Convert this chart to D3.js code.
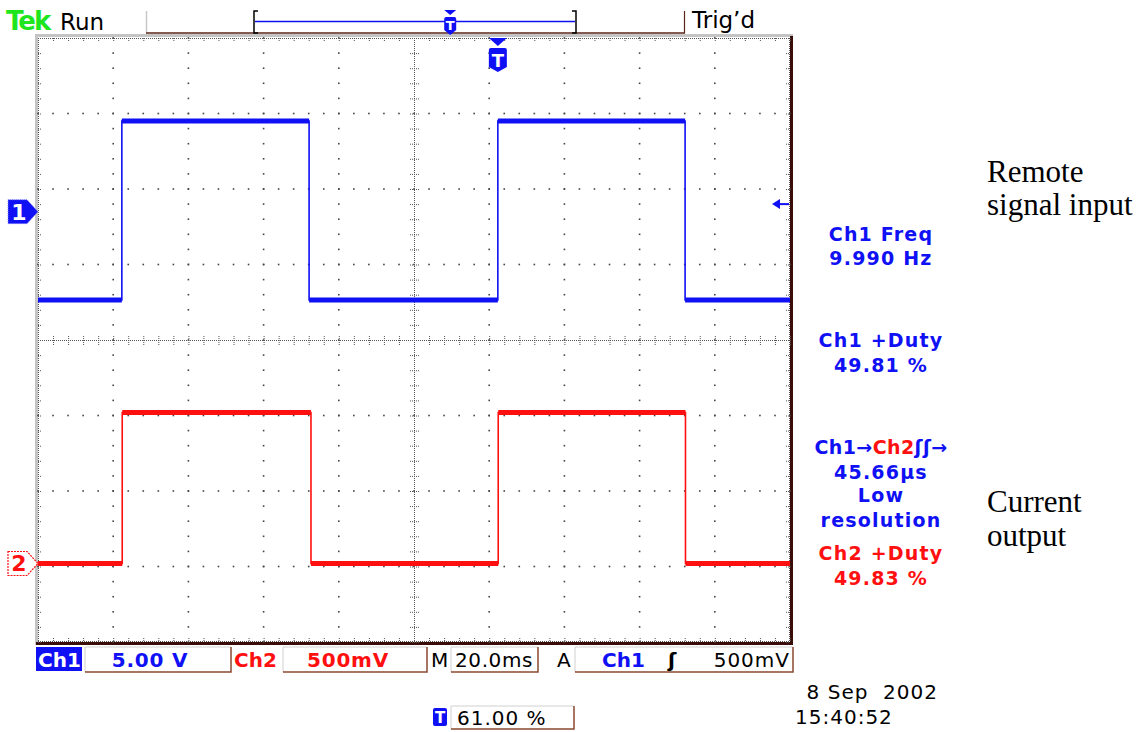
<!DOCTYPE html>
<html>
<head>
  <script src="https://d3js.org/d3.v7.min.js"></script>
  <style>
    body { margin: 0; background: #fff; }
    text { font-family: "DejaVu Sans", sans-serif; }
    .serif { font-family: "Liberation Serif", "Times New Roman", serif; }
  </style>
</head>
<body>
<svg id="scope"></svg>
<script>
  // traces: time in ms from left edge, volts
  const ch1Time = [0, 22.3, 22.3, 72.1, 72.1, 122.3, 122.3, 172.1, 172.1, 200];
  const ch1Volts = [-5.85, -5.85, 6.0, 6.0, -5.85, -5.85, 6.0, 6.0, -5.85, -5.85];
  const ch2Time = [0, 22.4, 22.4, 72.6, 72.6, 122.4, 122.4, 172.2, 172.2, 200];
  const ch2Volts = [0, 0, 1.0, 1.0, 0, 0, 1.0, 1.0, 0, 0];

  const ch1Scale = 5;      // V/div
  const ch2Scale = 0.5;    // V/div
  const ch1Offset = 1.7;   // div above centre
  const ch2Offset = -2.96;
  const triggerTime = 122.3;
  const triggerLevel = 0.5;
  const triggerPct = 61;

  const readouts = ["Ch1 Freq", "9.990 Hz", "Ch1 +Duty", "49.81 %"];
  const delayLines = ["45.66µs", "Low", "resolution"];
  const ch2Readouts = ["Ch2 +Duty", "49.83 %"];

  const blue = "#1010f4", red = "#ff1010", brown = "#5a2418";

  const svg = d3.select("#scope").attr("width", 1146).attr("height", 732);
  svg.append("rect").attr("width", 1146).attr("height", 732).attr("fill", "#fff");

  const x0 = 38, x1 = 790, y0 = 38, y1 = 642;
  const xDiv = d3.scaleLinear().domain([0, 10]).range([x0, x1]);
  const yDiv = d3.scaleLinear().domain([-4, 4]).range([y1, y0]);
  const xTime = d3.scaleLinear().domain([0, 200]).range([x0, x1]);
  const y1v = v => yDiv(v / ch1Scale + ch1Offset);
  const y2v = v => yDiv(v / ch2Scale + ch2Offset);

  // frame bevel
  svg.append("rect").attr("x", 35).attr("y", 34).attr("width", 758).attr("height", 3).attr("fill", "#c4c4c4");
  svg.append("rect").attr("x", 35).attr("y", 34).attr("width", 3).attr("height", 611).attr("fill", "#c4c4c4");
  svg.append("rect").attr("x", 790).attr("y", 36).attr("width", 3).attr("height", 609).attr("fill", "#3a0c08");
  svg.append("rect").attr("x", 36).attr("y", 642).attr("width", 757).attr("height", 3).attr("fill", "#3a0c08");

  const grid = svg.append("g").attr("fill", "#444");
  const minor = d3.range(0, 50.001, 1).map(i => i / 5);     // x in div
  const minorY = d3.range(-20, 20.001, 1).map(i => i / 5);  // y in div

  // dots along major lines
  [1, 2, 3, 4, 6, 7, 8, 9].forEach(k => {
    grid.selectAll(null).data(minorY).enter().append("rect")
      .attr("x", xDiv(k) - 0.8).attr("y", d => yDiv(d) - 0.8)
      .attr("width", 1.6).attr("height", 1.6);
  });
  [-3, -2, -1, 1, 2, 3].forEach(k => {
    grid.selectAll(null).data(minor).enter().append("rect")
      .attr("x", d => xDiv(d) - 0.8).attr("y", yDiv(k) - 0.8)
      .attr("width", 1.6).attr("height", 1.6);
  });

  const dotted = svg.append("g").attr("stroke", "#555").attr("stroke-width", 1)
    .attr("stroke-dasharray", "1,1").attr("fill", "none");
  // centre lines with cross ticks
  dotted.append("line").attr("x1", x0).attr("x2", x1).attr("y1", yDiv(0) + 0.5).attr("y2", yDiv(0) + 0.5);
  dotted.append("line").attr("x1", xDiv(5) + 0.5).attr("x2", xDiv(5) + 0.5).attr("y1", y0).attr("y2", y1);
  dotted.selectAll(null).data(minor).enter().append("line")
    .attr("x1", d => xDiv(d) + 0.5).attr("x2", d => xDiv(d) + 0.5)
    .attr("y1", yDiv(0) - 4).attr("y2", yDiv(0) + 5);
  dotted.selectAll(null).data(minorY).enter().append("line")
    .attr("y1", d => yDiv(d) + 0.5).attr("y2", d => yDiv(d) + 0.5)
    .attr("x1", xDiv(5) - 4).attr("x2", xDiv(5) + 5);

  // edges with inward ticks
  dotted.append("line").attr("x1", x0).attr("x2", x1).attr("y1", y0 + 0.5).attr("y2", y0 + 0.5);
  dotted.append("line").attr("x1", x0).attr("x2", x1).attr("y1", y1 - 0.5).attr("y2", y1 - 0.5);
  dotted.append("line").attr("x1", x0 + 0.5).attr("x2", x0 + 0.5).attr("y1", y0).attr("y2", y1);
  dotted.append("line").attr("x1", x1 - 0.5).attr("x2", x1 - 0.5).attr("y1", y0).attr("y2", y1);
  dotted.selectAll(null).data(minor).enter().append("line")
    .attr("x1", d => xDiv(d) + 0.5).attr("x2", d => xDiv(d) + 0.5).attr("y1", y0).attr("y2", y0 + 4);
  dotted.selectAll(null).data(minor).enter().append("line")
    .attr("x1", d => xDiv(d) + 0.5).attr("x2", d => xDiv(d) + 0.5).attr("y1", y1 - 4).attr("y2", y1);
  dotted.selectAll(null).data(minorY).enter().append("line")
    .attr("y1", d => yDiv(d) + 0.5).attr("y2", d => yDiv(d) + 0.5).attr("x1", x0).attr("x2", x0 + 4);
  dotted.selectAll(null).data(minorY).enter().append("line")
    .attr("y1", d => yDiv(d) + 0.5).attr("y2", d => yDiv(d) + 0.5).attr("x1", x1 - 4).attr("x2", x1);

  // traces
  function drawTrace(times, volts, yf, color) {
    const pts = times.map((t, i) => [xTime(t), yf(volts[i])]);
    svg.append("path").attr("d", d3.line()(pts))
      .attr("fill", "none").attr("stroke", color).attr("stroke-width", 1.6);
    const flats = [];
    for (let i = 0; i < pts.length - 1; i++) {
      if (times[i + 1] > times[i]) flats.push([pts[i], pts[i + 1]]);
    }
    svg.selectAll(null).data(flats).enter().append("line")
      .attr("x1", d => d[0][0]).attr("x2", d => d[1][0])
      .attr("y1", d => d[0][1]).attr("y2", d => d[1][1])
      .attr("stroke", color).attr("stroke-width", 5);
  }
  drawTrace(ch1Time, ch1Volts, y1v, blue);
  drawTrace(ch2Time, ch2Volts, y2v, red);

  // channel ground markers
  const gy1 = y1v(0), gy2 = y2v(0);
  svg.append("path")
    .attr("d", `M8,${gy1 - 12} L27,${gy1 - 12} L38,${gy1} L27,${gy1 + 12} L8,${gy1 + 12} Z`)
    .attr("fill", blue).attr("stroke", "#8c8cff").attr("stroke-width", 1).attr("stroke-dasharray", "1,1");
  svg.append("text").attr("x", 19).attr("y", gy1 + 8).attr("text-anchor", "middle")
    .attr("fill", "#fff").attr("font-weight", "bold").attr("font-size", 22).text("1");
  svg.append("path")
    .attr("d", `M8,${gy2 - 12} L27,${gy2 - 12} L38,${gy2} L27,${gy2 + 12} L8,${gy2 + 12} Z`)
    .attr("fill", "#fff").attr("stroke", red).attr("stroke-width", 1.2).attr("stroke-dasharray", "2,1");
  svg.append("text").attr("x", 19).attr("y", gy2 + 8).attr("text-anchor", "middle")
    .attr("fill", red).attr("font-weight", "bold").attr("font-size", 22).text("2");

  // trigger markers
  function trigMark(cx, top, w, tri, h, fs) {
    const g = svg.append("g");
    g.append("path").attr("d", `M${cx - w / 2},${top} L${cx + w / 2},${top} L${cx},${top + tri} Z`).attr("fill", blue);
    const sy = top + tri + 2;
    g.append("path")
      .attr("d", `M${cx - w / 2},${sy + 2} Q${cx - w / 2},${sy} ${cx - w / 2 + 2},${sy} L${cx + w / 2 - 2},${sy} Q${cx + w / 2},${sy} ${cx + w / 2},${sy + 2} L${cx + w / 2},${sy + h - 5} L${cx},${sy + h} L${cx - w / 2},${sy + h - 5} Z`)
      .attr("fill", blue);
    g.append("text").attr("x", cx).attr("y", sy + h - 5).attr("text-anchor", "middle")
      .attr("fill", "#fff").attr("font-weight", "bold").attr("font-size", fs).text("T");
  }
  trigMark(xTime(triggerTime), 38, 18, 8, 24, 18);

  // trigger level arrow on right edge
  const ty = y1v(triggerLevel);
  svg.append("line").attr("x1", 778).attr("x2", 789).attr("y1", ty).attr("y2", ty).attr("stroke", blue).attr("stroke-width", 2);
  svg.append("path").attr("d", `M772,${ty} L780,${ty - 5} L780,${ty + 5} Z`).attr("fill", blue);

  // top status bar
  svg.append("text").attr("x", 6).attr("y", 30).attr("fill", "#1ee61e").attr("font-weight", "bold")
    .attr("font-size", 26).attr("letter-spacing", -2).text("Tek");
  svg.append("text").attr("x", 60).attr("y", 30).attr("fill", "#000").attr("font-size", 23).text("Run");
  svg.append("line").attr("x1", 146.5).attr("x2", 146.5).attr("y1", 11).attr("y2", 33).attr("stroke", "#c8c8c8").attr("stroke-width", 1.5);
  svg.append("line").attr("x1", 146).attr("x2", 685).attr("y1", 33).attr("y2", 33).attr("stroke", brown).attr("stroke-width", 1.5);
  svg.append("line").attr("x1", 684.5).attr("x2", 684.5).attr("y1", 11).attr("y2", 33).attr("stroke", brown).attr("stroke-width", 1.2);
  const recX = d3.scaleLinear().domain([0, 100]).range([255, 575]);
  svg.append("line").attr("x1", recX(0)).attr("x2", recX(100)).attr("y1", 21.5).attr("y2", 21.5).attr("stroke", blue).attr("stroke-width", 1.5);
  svg.append("path").attr("d", "M258,11 L254,11 L254,33 L258,33").attr("fill", "none").attr("stroke", "#000").attr("stroke-width", 1.5);
  svg.append("path").attr("d", "M572,11 L576,11 L576,33 L572,33").attr("fill", "none").attr("stroke", "#000").attr("stroke-width", 1.5);
  trigMark(recX(triggerPct), 10, 12, 5, 18, 13);
  svg.append("text").attr("x", 692).attr("y", 28).attr("fill", "#000").attr("font-size", 23).text("Trig\u2019d");

  // right readouts
  const rx = 881;
  const ro = svg.append("g").attr("text-anchor", "middle").attr("font-size", 19).attr("font-weight", "bold").attr("letter-spacing", 1.2);
  const roY = [241, 265, 347, 372];
  readouts.forEach((s, i) => ro.append("text").attr("x", rx).attr("y", roY[i]).attr("fill", blue).text(s));
  const dl = ro.append("text").attr("x", rx).attr("y", 454).attr("fill", blue).attr("letter-spacing", 0.4);
  dl.append("tspan").text("Ch1\u2192");
  dl.append("tspan").attr("fill", red).text("Ch2");
  dl.append("tspan").text("\u0283\u0283\u2192");
  const dY = [479, 502, 527];
  delayLines.forEach((s, i) => ro.append("text").attr("x", rx).attr("y", dY[i]).attr("fill", blue).text(s));
  const c2Y = [560, 585];
  ch2Readouts.forEach((s, i) => ro.append("text").attr("x", rx).attr("y", c2Y[i]).attr("fill", red).text(s));

  // annotations
  const ann = svg.append("g").attr("font-size", 31).attr("fill", "#000");
  [["Remote", 182], ["signal input", 215], ["Current", 512], ["output", 546]].forEach(([s, y]) =>
    ann.append("text").attr("class", "serif").attr("x", 987).attr("y", y).text(s));

  // bottom settings bar
  function box(xa, xb, ya, yb) {
    svg.append("rect").attr("x", xa).attr("y", ya).attr("width", xb - xa).attr("height", yb - ya).attr("fill", "#fff");
    svg.append("path").attr("d", `M${xa},${yb} L${xa},${ya} L${xb},${ya}`).attr("fill", "none").attr("stroke", "#d0d0d0").attr("stroke-width", 1);
    svg.append("path").attr("d", `M${xa},${yb} L${xb},${yb} L${xb},${ya}`).attr("fill", "none").attr("stroke", "#8a4a30").attr("stroke-width", 1.5);
  }
  const by = 667;
  svg.append("rect").attr("x", 36).attr("y", 647).attr("width", 46).attr("height", 24).attr("fill", blue);
  svg.append("text").attr("x", 38).attr("y", by).attr("fill", "#fff").attr("font-size", 20).attr("font-weight", "bold").text("Ch1");
  box(85, 231, 647, 672);
  svg.append("text").attr("x", 150).attr("y", by).attr("text-anchor", "middle").attr("fill", blue).attr("font-size", 20).attr("font-weight", "bold").attr("letter-spacing", 0.8).text(`${ch1Scale.toFixed(2)} V`);
  svg.append("text").attr("x", 234).attr("y", by).attr("fill", red).attr("font-size", 20).attr("font-weight", "bold").text("Ch2");
  box(283, 427, 647, 672);
  svg.append("text").attr("x", 348).attr("y", by).attr("text-anchor", "middle").attr("fill", red).attr("font-size", 20).attr("font-weight", "bold").attr("letter-spacing", 0.8).text(`${ch2Scale * 1000}mV`);
  svg.append("text").attr("x", 431).attr("y", by).attr("fill", "#000").attr("font-size", 20).text("M");
  box(451, 538, 647, 672);
  svg.append("text").attr("x", 455).attr("y", by).attr("fill", "#000").attr("font-size", 20).attr("letter-spacing", 0.6).text("20.0ms");
  svg.append("text").attr("x", 557).attr("y", by).attr("fill", "#000").attr("font-size", 20).text("A");
  box(575, 793, 647, 672);
  svg.append("text").attr("x", 602).attr("y", by).attr("fill", blue).attr("font-size", 20).attr("font-weight", "bold").text("Ch1");
  svg.append("text").attr("x", 668).attr("y", by).attr("fill", "#000").attr("font-size", 20).attr("font-weight", "bold").text("\u0283");
  svg.append("text").attr("x", 790).attr("y", by).attr("text-anchor", "end").attr("fill", "#000").attr("font-size", 20).attr("letter-spacing", 1).text(`${triggerLevel * 1000}mV`);

  // trigger position readout
  svg.append("rect").attr("x", 433).attr("y", 708).attr("width", 14).attr("height", 18).attr("rx", 2).attr("fill", blue);
  svg.append("text").attr("x", 440).attr("y", 723).attr("text-anchor", "middle").attr("fill", "#fff").attr("font-size", 15).attr("font-weight", "bold").text("T");
  box(451, 574, 706, 729);
  svg.append("text").attr("x", 457).attr("y", 725).attr("fill", "#000").attr("font-size", 20).attr("letter-spacing", 1).text(`${triggerPct.toFixed(2)} %`);

  // date / time
  svg.append("text").attr("x", 938).attr("y", 699).attr("text-anchor", "end").attr("fill", "#000").attr("font-size", 20)
    .attr("letter-spacing", 1).style("white-space", "pre").text("8 Sep  2002");
  svg.append("text").attr("x", 795).attr("y", 724).attr("fill", "#000").attr("font-size", 20).attr("letter-spacing", 1).text("15:40:52");
</script>
</body>
</html>
